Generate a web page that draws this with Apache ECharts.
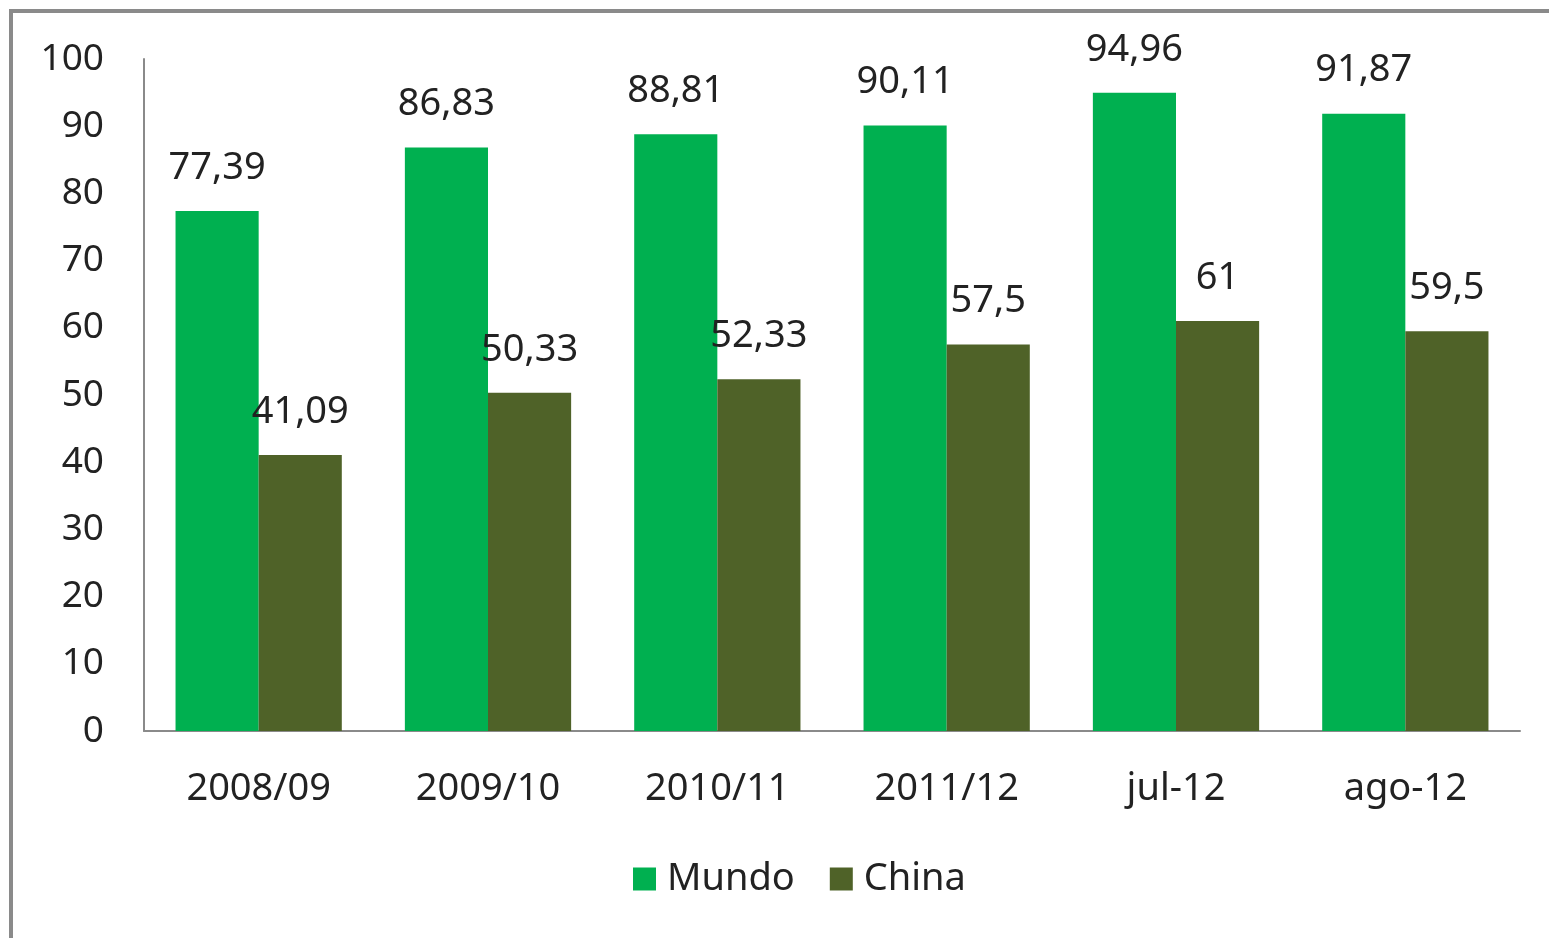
<!DOCTYPE html>
<html>
<head>
<meta charset="utf-8">
<script src="https://cdn.jsdelivr.net/npm/echarts@6/dist/echarts.min.js"></script>
<style>
    html, body { margin: 0; padding: 0; background: #fff; }
    #frame {
        position: absolute;
        left: 9px;
        top: 9px;
        width: 1540px;
        height: 929px;
        border-left: 4px solid #8a8a8a;
        border-top: 4px solid #8a8a8a;
        box-sizing: border-box;
    }
    #chart { position: absolute; left: 0; top: 0; width: 1549px; height: 938px; }
</style>
</head>
<body>
<div id="frame"></div>
<div id="chart"></div>
<script>
    // dados
    const categories = ['2008/09', '2009/10', '2010/11', '2011/12', 'jul-12', 'ago-12'];
    const mundo = [77.39, 86.83, 88.81, 90.11, 94.96, 91.87];
    const china = [41.09, 50.33, 52.33, 57.5, 61, 59.5];
    const yTicks = [0, 10, 20, 30, 40, 50, 60, 70, 80, 90, 100];

    const fontFamily = '"Noto Sans", sans-serif';
    const fmt = v => String(v).replace('.', ',');

    let myChart = echarts.init(document.getElementById('chart'));

    let option = {
        animation: false,
        textStyle: { fontFamily: fontFamily },
        legend: {
            bottom: 35,
            left: 628,
            itemWidth: 23,
            itemHeight: 23,
            itemGap: 35,
            icon: 'rect',
            textStyle: { fontSize: 38, color: '#222', fontFamily: fontFamily, padding: [0, 0, 0, 6] },
            data: ['Mundo', 'China']
        },
        grid: {
            left: 144,
            right: 29,
            top: 59,
            bottom: 207,
            containLabel: false
        },
        xAxis: {
            type: 'category',
            data: categories,
            axisLine: { show: true, lineStyle: { color: '#8a8a8a', width: 2 } },
            axisTick: { show: false },
            axisLabel: { fontSize: 38, color: '#222', margin: 39, fontFamily: fontFamily }
        },
        yAxis: {
            type: 'value',
            min: yTicks[0],
            max: yTicks[yTicks.length - 1],
            interval: 10,
            axisLine: { show: true, lineStyle: { color: '#8a8a8a', width: 2 } },
            axisTick: { show: false },
            splitLine: { show: false },
            axisLabel: { fontSize: 37, color: '#222', margin: 40, fontFamily: fontFamily }
        },
        series: [
            {
                name: 'Mundo',
                type: 'bar',
                data: mundo,
                barGap: '0%',
                barCategoryGap: '27.5%',
                itemStyle: { color: '#00b050' },
                label: {
                    show: true,
                    position: 'top',
                    distance: 24,
                    fontSize: 38,
                    color: '#222',
                    fontFamily: fontFamily,
                    formatter: p => fmt(p.value)
                }
            },
            {
                name: 'China',
                type: 'bar',
                data: china,
                barGap: '0%',
                barCategoryGap: '27.5%',
                itemStyle: { color: '#4f6228' },
                label: {
                    show: true,
                    position: 'top',
                    distance: 24,
                    fontSize: 38,
                    color: '#222',
                    fontFamily: fontFamily,
                    formatter: p => fmt(p.value)
                }
            }
        ]
    };

    myChart.setOption(option);
</script>
</body>
</html>
